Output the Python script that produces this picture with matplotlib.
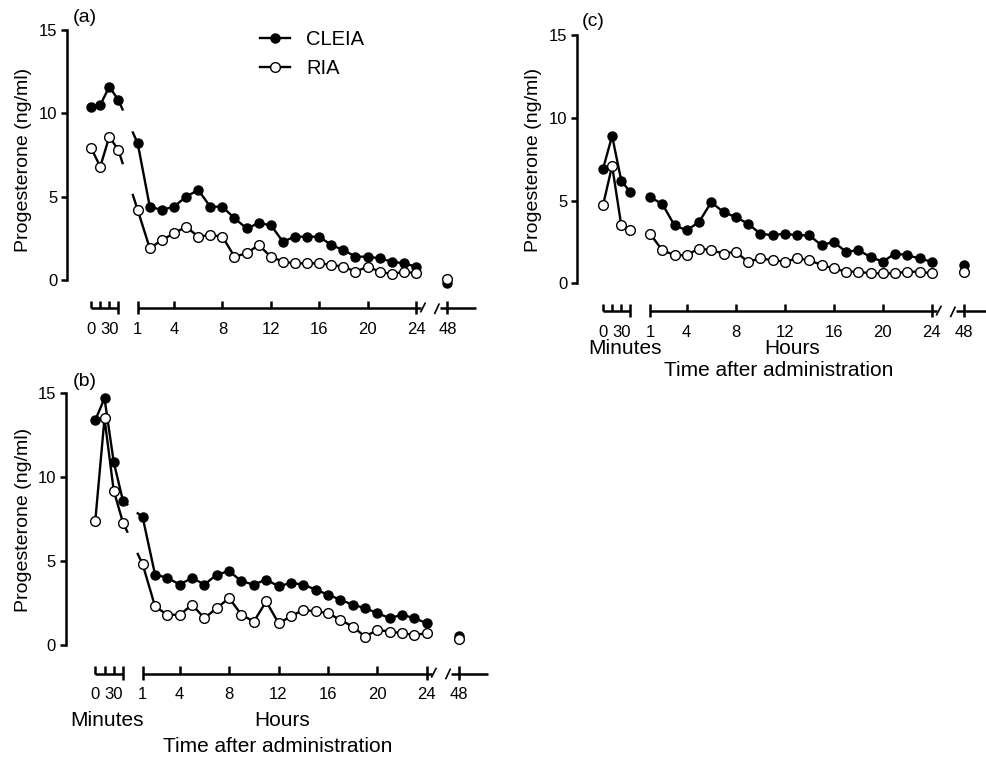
import numpy as np
import matplotlib.pyplot as plt

plt.rcParams['font.family'] = ['Liberation Sans', 'DejaVu Sans']

W, H = 987, 760

# sampling times
minutes = [0, 15, 30, 45]
hours = list(range(1, 25))
late_hour = 48

# panel (a)
cleia_a_min = [10.4, 10.5, 11.6, 10.8]
cleia_a_hr = [8.2, 4.4, 4.2, 4.4, 5.0, 5.4, 4.4, 4.4, 3.7, 3.1, 3.4, 3.3,
              2.3, 2.6, 2.6, 2.6, 2.1, 1.8, 1.4, 1.4, 1.3, 1.1, 1.0, 0.8]
cleia_a_48 = -0.15
ria_a_min = [7.9, 6.8, 8.6, 7.8]
ria_a_hr = [4.2, 1.9, 2.4, 2.8, 3.2, 2.6, 2.7, 2.6, 1.4, 1.6, 2.1, 1.4,
            1.1, 1.0, 1.0, 1.0, 0.9, 0.8, 0.5, 0.8, 0.5, 0.35, 0.5, 0.4]
ria_a_48 = 0.05

# panel (b)
cleia_b_min = [13.4, 14.7, 10.9, 8.6]
cleia_b_hr = [7.6, 4.2, 4.0, 3.6, 4.0, 3.6, 4.2, 4.4, 3.8, 3.6, 3.9, 3.5,
              3.7, 3.6, 3.3, 3.0, 2.7, 2.4, 2.2, 1.9, 1.6, 1.8, 1.6, 1.3]
cleia_b_48 = 0.55
ria_b_min = [7.4, 13.5, 9.2, 7.3]
ria_b_hr = [4.8, 2.3, 1.8, 1.8, 2.4, 1.6, 2.2, 2.8, 1.8, 1.4, 2.6, 1.3,
            1.7, 2.1, 2.0, 1.9, 1.5, 1.1, 0.5, 0.9, 0.8, 0.7, 0.6, 0.7]
ria_b_48 = 0.35

# panel (c)
cleia_c_min = [6.9, 8.9, 6.2, 5.5]
cleia_c_hr = [5.2, 4.8, 3.5, 3.2, 3.7, 4.9, 4.3, 4.0, 3.6, 3.0, 2.9, 3.0,
              2.9, 2.9, 2.3, 2.5, 1.9, 2.0, 1.6, 1.3, 1.8, 1.7, 1.5, 1.3]
cleia_c_48 = 1.1
ria_c_min = [4.7, 7.1, 3.5, 3.2]
ria_c_hr = [3.0, 2.0, 1.7, 1.7, 2.1, 2.0, 1.8, 1.9, 1.3, 1.5, 1.4, 1.3,
            1.5, 1.4, 1.1, 0.9, 0.7, 0.7, 0.6, 0.6, 0.6, 0.7, 0.7, 0.6]
ria_c_48 = 0.7

hour_ticks = [1, 4, 8, 12, 16, 20, 24]

# x layout (axis units: 1 unit = 1 hour on the hours segment)
MIN_START = -2.84
MIN_STEP = 0.0498
POS_48 = 26.6
GAP = (-0.25, 0.6)
XR = 29.3

LW = 1.7
TICK_FS = 12
LAB_FS = 15
cleia_style = dict(color='k', lw=LW, marker='o', ms=6.5, mfc='k', mec='k', mew=1.0)
ria_style = dict(color='k', lw=LW, marker='o', ms=7, mfc='white', mec='k', mew=1.0)


def mpos(m):
    return MIN_START + np.asarray(m, dtype=float) * MIN_STEP


def px(x, y):
    return x / W, 1 - y / H


fig = plt.figure(figsize=(W / 100, H / 100), dpi=100)


def panel(box, series, stubs):
    yax, h1, ppu, y0, y15 = box
    xl = 1 - (h1 - yax) / ppu
    ax = fig.add_axes([yax / W, 1 - y0 / H, (XR - xl) * ppu / W, (y0 - y15) / H])
    ax.set_xlim(xl, XR)
    ax.set_ylim(0, 15)
    for s in ['top', 'right', 'bottom']:
        ax.spines[s].set_visible(False)
    ax.spines['left'].set_linewidth(1.8)
    ax.set_xticks([])
    ax.set_yticks([0, 5, 10, 15])
    ax.tick_params(axis='y', direction='out', length=4, width=1.8,
                   labelsize=TICK_FS, pad=3)
    ax.patch.set_alpha(0)

    xm = mpos(minutes)
    for (vm, vh, v48), st in zip(series, [cleia_style, ria_style]):
        if stubs:
            yy = np.interp(GAP, [xm[-1], hours[0]], [vm[-1], vh[0]])
            ax.plot([xm[-1], GAP[0]], [vm[-1], yy[0]], color='k', lw=LW,
                    zorder=1.5, clip_on=False)
            ax.plot([GAP[1], hours[0]], [yy[1], vh[0]], color='k', lw=LW,
                    zorder=1.5, clip_on=False)
        ax.plot(xm, vm, clip_on=False, **st)
        ax.plot(hours, vh, clip_on=False, **st)
        ax.plot([POS_48], [v48], ls='none', clip_on=False,
                **{k: v for k, v in st.items() if k not in ('lw', 'color')})

    # broken time axis
    ya, up, dn = -1.7, 0.42, 0.36
    kw = dict(color='k', lw=1.8, clip_on=False, solid_capstyle='butt')
    ax.plot([xm[0], xm[-1]], [ya, ya], **kw)
    ax.vlines(xm[:-1], ya, ya + up, colors='k', lw=1.8, clip_on=False)
    ax.vlines(xm[-1], ya - dn, ya + up, colors='k', lw=1.8, clip_on=False)
    ax.plot([1, 24.4], [ya, ya], **kw)
    ax.vlines(hour_ticks[1:-1], ya, ya + up, colors='k', lw=1.8, clip_on=False)
    ax.vlines([1, 24], ya - dn, ya + up, colors='k', lw=1.8, clip_on=False)
    ax.plot([24.4, 24.75], [ya - 0.2, ya + 0.3], color='k', lw=1.2, clip_on=False)
    ax.plot([25.55, 25.9], [ya - 0.3, ya + 0.25], color='k', lw=1.2, clip_on=False)
    ax.plot([26.0, 29.0], [ya, ya], **kw)
    ax.vlines(POS_48, ya - dn, ya + up, colors='k', lw=1.8, clip_on=False)

    yl = ya - 1.25
    for m, lab in zip([0, 30], ['0', '30']):
        ax.text(mpos(m), yl, lab, ha='center', va='center', fontsize=TICK_FS)
    for h in hour_ticks:
        ax.text(h, yl, str(h), ha='center', va='center', fontsize=TICK_FS)
    ax.text(POS_48, yl, str(late_hour), ha='center', va='center', fontsize=TICK_FS)
    return ax


ax_a = panel((67, 137.7, 12.1, 280, 30),
             [(cleia_a_min, cleia_a_hr, cleia_a_48), (ria_a_min, ria_a_hr, ria_a_48)], True)
ax_b = panel((65.7, 142.7, 12.35, 645, 393.3),
             [(cleia_b_min, cleia_b_hr, cleia_b_48), (ria_b_min, ria_b_hr, ria_b_48)], True)
ax_c = panel((577, 650, 12.25, 283.3, 35),
             [(cleia_c_min, cleia_c_hr, cleia_c_48), (ria_c_min, ria_c_hr, ria_c_48)], False)

# labels
for (x, y) in [(24, 160), (24, 520), (534, 160)]:
    fig.text(*px(x, y), 'Progesterone (ng/ml)', rotation=90, ha='center',
             va='center', fontsize=14)
for (x, y), lab in zip([(85, 18), (85, 382), (593, 22)], ['(a)', '(b)', '(c)']):
    fig.text(*px(x, y), lab, ha='center', va='center', fontsize=14)
for (xm_, xh, xt, y1, y2) in [(107, 282, 278, 720, 747), (625, 792, 779, 348, 371)]:
    fig.text(*px(xm_, y1), 'Minutes', ha='center', va='center', fontsize=LAB_FS)
    fig.text(*px(xh, y1), 'Hours', ha='center', va='center', fontsize=LAB_FS)
    fig.text(*px(xt, y2), 'Time after administration', ha='center', va='center',
             fontsize=LAB_FS)

# legend
h_c, = ax_a.plot([], [], **cleia_style)
h_r, = ax_a.plot([], [], **ria_style)
fig.legend([h_c, h_r], ['CLEIA', 'RIA'], loc='upper left', bbox_to_anchor=px(260, 30),
           frameon=False, fontsize=14.5, handlelength=1.5, handletextpad=0.8,
           labelspacing=0.5, borderpad=0, borderaxespad=0)

fig.savefig('out.png', dpi=100)
